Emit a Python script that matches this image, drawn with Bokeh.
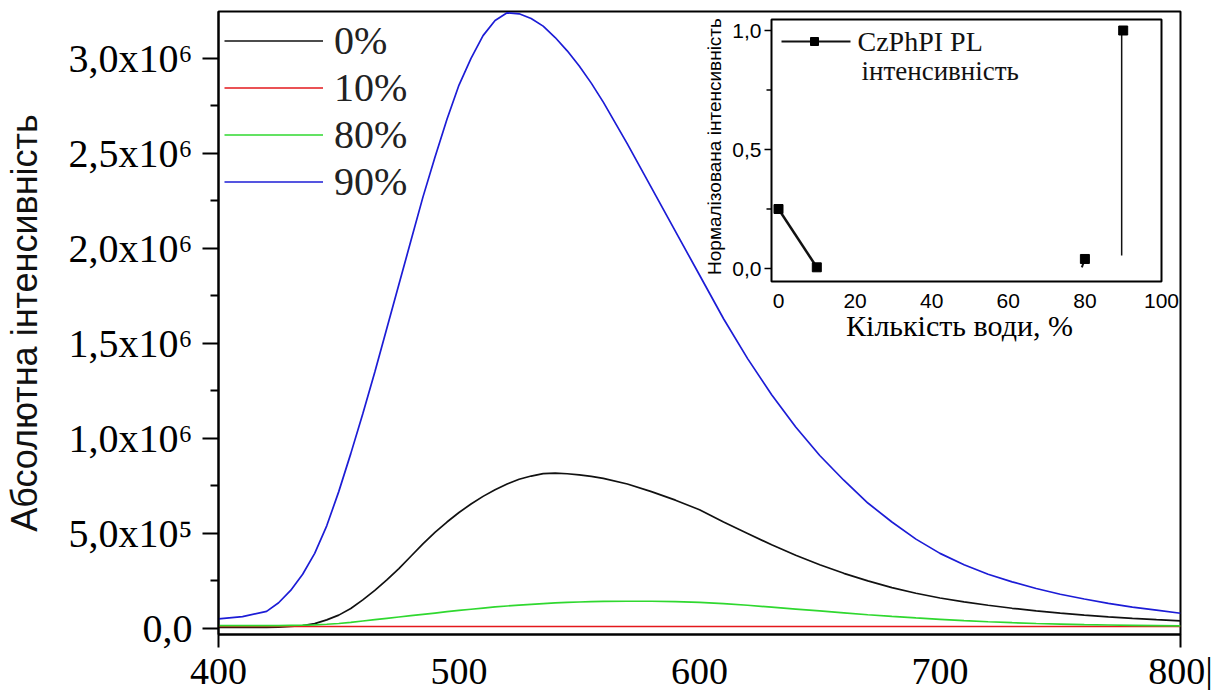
import math
from bokeh.plotting import figure
from bokeh.models import FixedTicker, Range1d, Legend, LegendItem, Label
from bokeh.core.properties import value
from bokeh.embed import file_html
from bokeh.resources import INLINE

SERIF = "Liberation Serif"
SANS = "Liberation Sans"

# ---------------- main chart data ----------------
wavelength = [400, 410, 420, 425, 430, 435, 440, 445, 450, 455, 460, 465, 470, 475, 480,
              485, 490, 495, 500, 505, 510, 515, 520, 525, 530, 535, 540, 545, 550, 555,
              560, 570, 580, 590, 600, 610, 620, 630, 640, 650, 660, 670, 680, 690, 700,
              710, 720, 730, 740, 750, 760, 770, 780, 790, 800]

int_0 = [5e3, 5e3, 6e3, 7e3, 1.0e4, 1.5e4, 2.5e4, 4.5e4, 7.0e4, 1.05e5, 1.5e5, 2.0e5, 2.55e5, 3.15e5, 3.8e5,
         4.45e5, 5.05e5, 5.6e5, 6.1e5, 6.55e5, 6.95e5, 7.3e5, 7.6e5, 7.85e5, 8.02e5, 8.15e5, 8.17e5, 8.14e5, 8.08e5, 8.0e5,
         7.9e5, 7.6e5, 7.2e5, 6.75e5, 6.25e5, 5.6e5, 5.0e5, 4.4e5, 3.85e5, 3.35e5, 2.9e5, 2.5e5, 2.15e5, 1.85e5, 1.6e5,
         1.4e5, 1.22e5, 1.06e5, 9.2e4, 8.0e4, 7.0e4, 6.1e4, 5.3e4, 4.6e4, 4.0e4]

int_10 = [1.0e4, 1.0e4, 1.0e4, 1.0e4, 1.0e4, 1.0e4, 1.0e4, 1.0e4, 1.0e4, 1.0e4, 1.0e4, 1.0e4, 1.0e4, 1.0e4, 1.0e4,
          1.0e4, 1.0e4, 1.0e4, 1.0e4, 1.0e4, 1.0e4, 1.0e4, 1.0e4, 1.0e4, 1.0e4, 1.0e4, 1.0e4, 1.0e4, 1.0e4, 1.0e4,
          1.0e4, 1.0e4, 1.0e4, 1.0e4, 1.0e4, 1.0e4, 1.0e4, 1.0e4, 1.0e4, 1.0e4, 1.0e4, 1.0e4, 1.0e4, 1.0e4, 1.0e4,
          1.0e4, 1.0e4, 1.0e4, 1.0e4, 1.0e4, 1.0e4, 1.0e4, 1.0e4, 1.0e4, 1.0e4]

int_80 = [1.5e4, 1.5e4, 1.5e4, 1.5e4, 1.6e4, 1.7e4, 1.9e4, 2.2e4, 2.6e4, 3.2e4, 3.9e4, 4.6e4, 5.3e4, 6.0e4, 6.7e4,
          7.4e4, 8.1e4, 8.8e4, 9.5e4, 1.01e5, 1.07e5, 1.13e5, 1.18e5, 1.23e5, 1.27e5, 1.31e5, 1.34e5, 1.37e5, 1.39e5, 1.41e5,
          1.42e5, 1.43e5, 1.43e5, 1.41e5, 1.37e5, 1.31e5, 1.22e5, 1.12e5, 1.02e5, 9.2e4, 8.2e4, 7.2e4, 6.3e4, 5.5e4, 4.8e4,
          4.1e4, 3.5e4, 3.0e4, 2.6e4, 2.3e4, 2.0e4, 1.8e4, 1.6e4, 1.45e4, 1.3e4]

int_90 = [5.0e4, 6.2e4, 9.0e4, 1.35e5, 2.0e5, 2.85e5, 3.95e5, 5.4e5, 7.2e5, 9.2e5, 1.13e6, 1.35e6, 1.58e6, 1.81e6, 2.04e6,
          2.27e6, 2.48e6, 2.68e6, 2.86e6, 3.0e6, 3.12e6, 3.2e6, 3.24e6, 3.235e6, 3.21e6, 3.17e6, 3.11e6, 3.04e6, 2.96e6, 2.87e6,
          2.77e6, 2.55e6, 2.32e6, 2.09e6, 1.86e6, 1.63e6, 1.42e6, 1.23e6, 1.06e6, 9.1e5, 7.8e5, 6.6e5, 5.6e5, 4.7e5, 3.95e5,
          3.35e5, 2.85e5, 2.45e5, 2.1e5, 1.8e5, 1.55e5, 1.32e5, 1.12e5, 9.6e4, 8.0e4]

series_labels = ["0%", "10%", "80%", "90%"]
series_colors = ["#111111", "#e3191c", "#2fd82f", "#1c1cd6"]

x_ticks = [400, 500, 600, 700, 800]
x_tick_labels = ["400", "500", "600", "700", "800|"]
y_ticks = [0, 500000, 1000000, 1500000, 2000000, 2500000, 3000000]
y_tick_labels = ["0,0", "5,0x10\u2075", "1,0x10\u2076", "1,5x10\u2076", "2,0x10\u2076", "2,5x10\u2076", "3,0x10\u2076"]
y_minor = [250000, 750000, 1250000, 1750000, 2250000, 2750000]

# ---------------- inset data ----------------
water_pct = [0, 10, 80, 90]
norm_int = [0.25, 0.005, 0.04, 1.0]
drop_x = [89.6, 89.6]
drop_y = [0.055, 0.99]
stub_x = [79.2, 80.0]
stub_y = [0.005, 0.04]
inset_x_ticks = [0, 20, 40, 60, 80, 100]
inset_x_tick_labels = ["0", "20", "40", "60", "80", "100"]
inset_y_ticks = [0, 0.5, 1.0]
inset_y_tick_labels = ["0,0", "0,5", "1,0"]
inset_y_minor = [0.25, 0.75]
inset_legend_label = "CzPhPI PL"
inset_legend_label2 = "інтенсивність"

# ---------------- layout constants (pixels) ----------------
FRAME_L, FRAME_T, FRAME_W, FRAME_H = 218, 11, 962, 623
FIG_W, FIG_H = 1225, 686
# inset placement inside the main frame (page pixels)
IN_X0_PX, IN_X100_PX = 778, 1161      # inset x = 0 and x = 100
IN_Y0_PX, IN_Y1_PX = 268, 30          # inset y = 0 and y = 1
IN_BOX = (771, 1161, 19, 281)         # left, right, top, bottom
ipx = (IN_X100_PX - IN_X0_PX) / 100.0
ipy = (IN_Y0_PX - IN_Y1_PX) / 1.0


def ix(px):
    return (px - IN_X0_PX) / ipx


def iy(py):
    return (IN_Y0_PX - py) / ipy


# ================= main figure =================
p = figure(frame_width=FRAME_W, frame_height=FRAME_H,
           min_border_left=FRAME_L, min_border_right=FIG_W - FRAME_L - FRAME_W,
           min_border_top=FRAME_T, min_border_bottom=FIG_H - FRAME_T - FRAME_H,
           x_range=Range1d(400, 800), y_range=Range1d(-3.2e4, 3.247e6),
           output_backend="svg", toolbar_location=None)
p.grid.visible = False
p.outline_line_color = "black"
p.outline_line_width = 2
p.background_fill_color = "white"
p.border_fill_color = "white"

p.extra_x_ranges = {"ix": Range1d(ix(FRAME_L), ix(FRAME_L + FRAME_W))}
p.extra_y_ranges = {"iy": Range1d(iy(FRAME_T + FRAME_H), iy(FRAME_T))}

renderers = []
for ys, col in zip([int_0, int_10, int_80, int_90], series_colors):
    renderers.append(p.line(wavelength, ys, line_color=col, line_width=1.7))

xa = p.xaxis[0]
xa.ticker = FixedTicker(ticks=x_ticks, minor_ticks=[x_ticks[0], x_ticks[-1]])
xa.major_label_overrides = dict(zip(x_ticks, x_tick_labels))
xa.major_tick_line_color = None
xa.major_tick_out = 0
xa.major_tick_in = 0
xa.minor_tick_out = 13
xa.minor_tick_in = 0
xa.minor_tick_line_width = 2
xa.minor_tick_line_color = "black"
xa.major_label_standoff = 2
xa.major_label_text_font = SERIF
xa.major_label_text_font_size = "38px"
xa.major_label_text_color = "black"
xa.axis_line_width = 2
xa.axis_line_color = "black"

ya = p.yaxis[0]
ya.ticker = FixedTicker(ticks=y_ticks, minor_ticks=y_minor)
ya.major_label_overrides = dict(zip(y_ticks, y_tick_labels))
ya.major_tick_out = 16
ya.major_tick_in = 0
ya.minor_tick_out = 8
ya.minor_tick_in = 0
ya.major_tick_line_width = 2
ya.minor_tick_line_width = 2
ya.major_tick_line_color = "black"
ya.minor_tick_line_color = "black"
ya.axis_line_width = 2
ya.axis_line_color = "black"
ya.major_label_standoff = 10
ya.major_label_text_font = SERIF
ya.major_label_text_font_size = "40px"
ya.major_label_text_color = "black"
ya.axis_label = "Абсолютна інтенсивність"
ya.axis_label_text_font = SANS
ya.axis_label_text_font_size = "36px"
ya.axis_label_text_font_style = "normal"
ya.axis_label_text_color = "#111111"
ya.axis_label_standoff = 21

legend = Legend(items=[LegendItem(label=l, renderers=[r]) for l, r in zip(series_labels, renderers)],
                location="top_left", margin=6, padding=0, spacing=0,
                glyph_width=99, glyph_height=47, label_height=47, label_standoff=11,
                label_text_font=SERIF, label_text_font_size="40px", label_text_color="#222222",
                border_line_color=None, background_fill_alpha=0)
p.add_layout(legend)

# ================= inset (drawn on its own extra ranges) =================
R = dict(x_range_name="ix", y_range_name="iy")
l, r, t, b = IN_BOX
p.quad(left=ix(l), right=ix(r), top=iy(t), bottom=iy(b), fill_color=None,
       line_color="black", line_width=2, **R)

# data
seg = p.line(water_pct[:2], norm_int[:2], line_color="#111111", line_width=2.5, **R)
p.line(drop_x, drop_y, line_color="#111111", line_width=1.5, **R)
p.line(stub_x, stub_y, line_color="#111111", line_width=2, **R)
p.scatter(water_pct, norm_int, marker="square", size=9, fill_color="black", line_color="black", **R)

# inset y axis ticks and labels
p.ray(x=[ix(l)] * len(inset_y_ticks), y=inset_y_ticks, length=7, length_units="screen",
      angle=math.pi, line_color="black", line_width=1.5, **R)
p.ray(x=[ix(l)] * len(inset_y_minor), y=inset_y_minor, length=5, length_units="screen",
      angle=math.pi, line_color="black", line_width=1.5, **R)
p.text(x=[ix(l - 10)] * len(inset_y_ticks), y=inset_y_ticks, text=inset_y_tick_labels,
       text_font=value(SANS), text_font_size="21px", text_color="black",
       text_align="right", text_baseline="middle", **R)

# inset x axis labels
p.text(x=inset_x_ticks, y=[iy(300)] * len(inset_x_ticks), text=inset_x_tick_labels,
       text_font=value(SANS), text_font_size="21px", text_color="black",
       text_align="center", text_baseline="middle", **R)

# inset axis titles
p.add_layout(Label(x=ix(959), y=iy(325), text="Кількість води, %", text_font=SERIF,
                   text_font_size="30px", text_color="black", text_align="center",
                   text_baseline="middle", **R))
p.add_layout(Label(x=ix(714), y=iy(146), text="Нормалізована інтенсивність", text_font=SANS,
                   text_font_size="19px", text_color="black", text_align="center",
                   text_baseline="middle", angle=math.pi / 2, **R))

# inset legend
p.line([ix(781), ix(850)], [iy(41), iy(41)], line_color="#111111", line_width=2, **R)
p.scatter([ix(814)], [iy(41)], marker="square", size=8, fill_color="black", line_color="black", **R)
p.text(x=[ix(857)], y=[iy(41)], text=[inset_legend_label], text_font=value(SERIF),
       text_font_size="28px", text_color="#111111", text_align="left", text_baseline="middle", **R)
p.text(x=[ix(861)], y=[iy(70)], text=[inset_legend_label2], text_font=value(SERIF),
       text_font_size="27px", text_color="#111111", text_align="left", text_baseline="middle", **R)

open("out.html", "w").write(file_html(p, INLINE))
